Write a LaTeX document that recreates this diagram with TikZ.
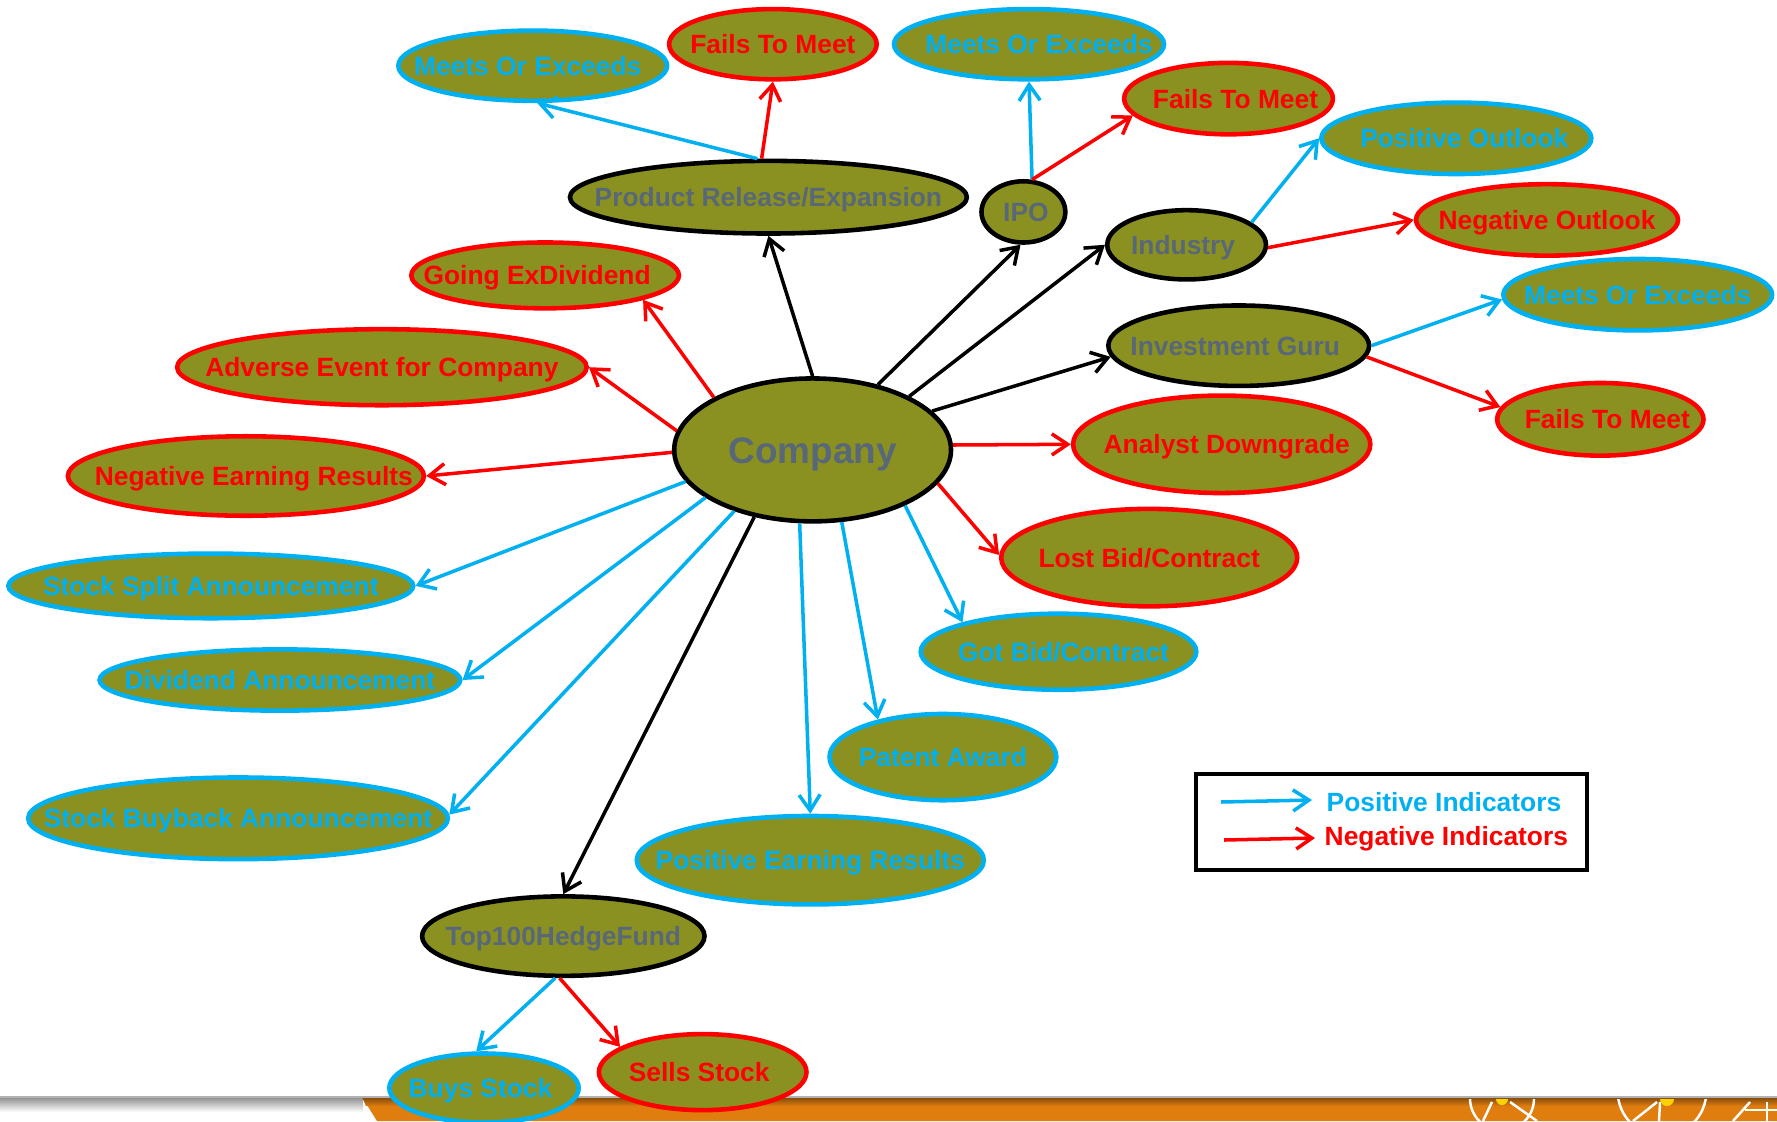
\documentclass[tikz,border=0pt]{standalone}
\usepackage{fontspec}
\setmainfont{Liberation Sans}
\usetikzlibrary{shapes.geometric,arrows.meta}
\definecolor{ofill}{RGB}{138,145,32}
\definecolor{pblue}{RGB}{0,176,240}
\definecolor{nred}{RGB}{255,0,0}
\definecolor{tgray}{RGB}{88,104,120}
\definecolor{bandor}{RGB}{224,125,15}
\definecolor{bandbr}{RGB}{125,72,10}
\newcommand\mytx[2][0cm]{\makebox[0pt]{\hspace*{#1}#2}}
\tikzset{
  el/.style 2 args={ellipse, fill=ofill, line width=1.3pt, inner sep=0pt,
    minimum width=#1*0.02cm, minimum height=#2*0.02cm,
    font=\fontsize{7.5}{9}\selectfont\bfseries, text height=5.4pt, text depth=0pt},
  pnode/.style={draw=pblue, text=pblue},
  nnode/.style={draw=nred, text=nred},
  knode/.style={draw=black, text=tgray},
  conn/.style={line width=1pt, -{Straight Barb[length=4.5pt,width=6pt,line width=1pt]}},
  posarr/.style={conn, pblue},
  negarr/.style={conn, nred},
  neuarr/.style={conn, black},
  legtxt/.style={font=\fontsize{7.5}{9}\selectfont\bfseries, inner sep=0pt, anchor=base west},
}
\begin{document}
\begin{tikzpicture}[x=0.01cm, y=-0.01cm]
\useasboundingbox (0,0) rectangle (1777,1121);
\clip (0,0) rectangle (1777,1121);

% bottom band
\shade[top color=black!45, bottom color=white] (0,1097) rectangle (363,1112);
\fill[bandor] (362,1097) -- (1777,1097) -- (1777,1121) -- (377,1121) -- cycle;
\shade[top color=bandbr, bottom color=bandor] (362,1097) -- (1777,1097) -- (1777,1106) -- (366,1106) -- cycle;
\draw[black!30, line width=0.4pt] (0,1097) -- (1777,1097);
\begin{scope}
  \clip (362,1099) rectangle (1777,1121);
  \draw[white, line width=0.7pt] (1502,1098.5) circle (32);
  \draw[white, line width=0.7pt] (1492,1102) -- (1483,1121) (1510,1102) -- (1537,1121);
  \fill[yellow!70!orange] (1502,1099) circle (6);
  \draw[white, line width=0.7pt] (1662,1091.5) circle (44.3);
  \draw[white, line width=0.7pt] (1657,1102) -- (1633,1121) (1660,1102) -- (1659,1121);
  \fill[yellow!70!orange] (1667,1099) circle (7);
  \draw[white, line width=0.7pt] (1750,1102) -- (1733,1121);
  \draw[white, line width=0.7pt] (1745,1110) -- (1777,1110) (1767,1102) -- (1767,1121);
\end{scope}

% central and hub nodes
\node[el={138.3}{71.4}, knode, font=\fontsize{10.5}{12}\selectfont\bfseries, text height=7.5pt] (comp) at (812.6,449.9) {\mytx{Company}};
\node[el={198.3}{36.3}, knode] (pr) at (768.4,197.2) {\mytx{Product Release/Expansion}};
\node[el={41.9}{30.6}, knode] (ipo) at (1023.4,211.9) {\mytx[0.05cm]{IPO}};
\node[el={79.3}{34.6}, knode] (ind) at (1186.6,244.8) {\mytx[-0.07cm]{Industry}};
\node[el={130.3}{40.2}, knode] (ig) at (1238.7,345.7) {\mytx[-0.07cm]{Investment Guru}};
\node[el={141.1}{39.7}, knode] (top) at (563.3,936.1) {\mytx{Top100HedgeFund}};

% positive nodes
\node[el={134.3}{35.1}, pnode] (moe1) at (532.7,65.7) {\mytx[-0.1cm]{Meets Or Exceeds}};
\node[el={134.9}{35.1}, pnode] (moe2) at (1029,44.2) {\mytx[0.2cm]{Meets Or Exceeds}};
\node[el={134.9}{35.7}, pnode] (po) at (1456.3,138.3) {\mytx[0.16cm]{Positive Outlook}};
\node[el={134.3}{35.7}, pnode] (moe3) at (1637.7,294.7) {\mytx{Meets Or Exceeds}};
\node[el={202.3}{32.3}, pnode] (ssa) at (210.8,585.9) {\mytx{Stock Split Announcement}};
\node[el={180.2}{30.6}, pnode] (da) at (279.9,680) {\mytx{Dividend Announcement}};
\node[el={209.7}{40.8}, pnode] (sba) at (238,818.3) {\mytx{Stock Buyback Announcement}};
\node[el={173.4}{44.2}, pnode] (per) at (810.3,860.2) {\mytx{Positive Earning Results}};
\node[el={113.3}{43.1}, pnode] (pa) at (942.9,757.1) {\mytx{Patent Award}};
\node[el={137.7}{38}, pnode] (gbc) at (1058.5,651.7) {\mytx[0.1cm]{Got Bid/Contract}};
\node[el={94.6}{34.5}, pnode] (buys) at (484,1088) {\mytx[-0.07cm]{Buys Stock}};

% negative nodes
\node[el={103.7}{38}, nnode] (sells) at (702.7,1072.1) {\mytx[-0.07cm]{Sells Stock}};
\node[el={103.7}{35.1}, nnode] (ftm1) at (772.9,44.2) {\mytx{Fails To Meet}};
\node[el={104.3}{35.7}, nnode] (ftm2) at (1228.5,98.6) {\mytx[0.14cm]{Fails To Meet}};
\node[el={130.9}{35.7}, nnode] (no) at (1547,219.9) {\mytx{Negative Outlook}};
\node[el={133.7}{32.9}, nnode] (ged) at (545.1,275.4) {\mytx[-0.16cm]{Going ExDividend}};
\node[el={204.6}{38}, nnode] (aec) at (381.9,367.2) {\mytx{Adverse Event for Company}};
\node[el={177.9}{39.7}, nnode] (ner) at (245.9,476) {\mytx[0.16cm]{Negative Earning Results}};
\node[el={148.5}{48.7}, nnode] (ad) at (1221.7,444.3) {\mytx[0.1cm]{Analyst Downgrade}};
\node[el={147.9}{48.7}, nnode] (lbc) at (1149.2,557.6) {\mytx{Lost Bid/Contract}};
\node[el={103.1}{36.3}, nnode] (ftm3) at (1600.3,419.3) {\mytx[0.14cm]{Fails To Meet}};

% connectors from Company
\draw[neuarr] (comp.90) -- (pr.270);
\draw[neuarr] (comp.45) -- (ipo.265);
\draw[neuarr] (comp.29) -- (ind.180);
\draw[neuarr] (comp.18) -- (ig.185);
\draw[negarr] (comp.2) -- (ad.180);
\draw[negarr] (comp.-15) -- (lbc.179);
\draw[posarr] (comp.-31) -- (gbc.163);
\draw[posarr] (comp.-68) -- (pa.150);
\draw[posarr] (comp.-100) -- (per.90);
\draw[neuarr] (comp.-131) -- (top.90);
\draw[posarr] (comp.-142) -- (sba.1);
\draw[posarr] (comp.-156) -- (da.0);
\draw[posarr] (comp.-166) -- (ssa.0);
\draw[negarr] (comp.181) -- (ner.0);
\draw[negarr] (comp.172) -- (aec.0);
\draw[negarr] (comp.152) -- (ged.-14);

% sub connectors
\draw[posarr] (pr.106) -- (moe1.-83);
\draw[negarr] (pr.100) -- (ftm1.270);
\draw[posarr] (ipo.75) -- (moe2.270);
\draw[negarr] (ipo.75) -- (ftm2.190);
\draw[posarr] (ind.19) -- (po.180);
\draw[negarr] (ind.-2) -- (no.180);
\draw[posarr] (ig.0) -- (moe3.182);
\draw[negarr] (ig.-5) -- (ftm3.173);
\draw[posarr] (top.-101) -- (buys.102);
\draw[negarr] (top.-95) -- (sells.163);

% legend
\node[draw, line width=1.3pt, fill=white, minimum width=3.91cm, minimum height=0.96cm, inner sep=0pt] (leg) at (1391.5,822) {};
\coordinate (lpa) at (1221,802);
\coordinate (lpb) at (1312,800);
\coordinate (lna) at (1224,840);
\coordinate (lnb) at (1315,838);
\draw[posarr] (lpa) -- (lpb);
\draw[negarr] (lna) -- (lnb);
\node[legtxt, text=pblue] (lpt) at (1326,811.5) {Positive Indicators};
\node[legtxt, text=nred] (lnt) at (1324,845.5) {Negative Indicators};
\end{tikzpicture}
\end{document}
